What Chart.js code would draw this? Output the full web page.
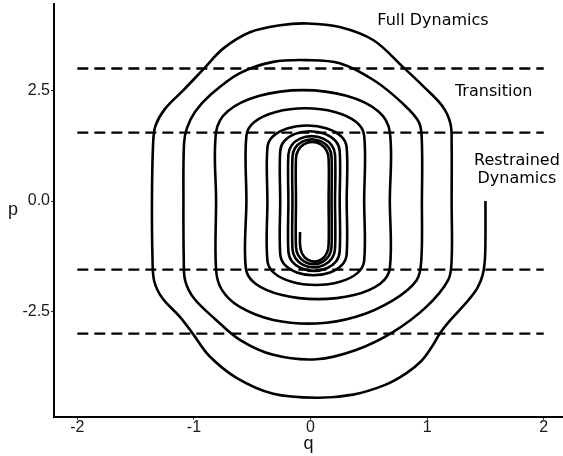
<!DOCTYPE html>
<html>
<head>
<meta charset="utf-8">
<script src="https://cdn.jsdelivr.net/npm/chart.js@4/dist/chart.umd.min.js"></script>
<style>
    html, body { margin: 0; padding: 0; background: #fff; }
</style>
</head>
<body>
<canvas id="phaseChart" width="563" height="456"></canvas>
<script>
// trajectory, in order from the start at (1.5, 0)
const qValues = [
    1.50, 1.50, 1.495, 1.475, 1.43, 1.355, 1.27, 1.18, 1.11, 1.04, 0.95, 0.82, 0.64, 0.365, 0.05,
    -0.32, -0.635, -0.87, -1.01, -1.12, -1.27, -1.34, -1.355, -1.36, -1.35, -1.33, -1.25, -1.09, -0.92,
    -0.75, -0.52, -0.26, -0.03, 0.25, 0.54, 0.79, 0.97, 1.13, 1.20, 1.21, 1.21,
    1.21, 1.18, 0.995, 0.71, 0.39, 0.05, -0.32, -0.606, -0.81, -1.00, -1.075, -1.087, -1.09,
    -1.085, -1.06, -0.99, -0.86, -0.61, -0.32, -0.03, 0.25, 0.54, 0.79, 0.93, 0.955, 0.955,
    0.95, 0.91, 0.71, 0.39, 0.05, -0.32, -0.61, -0.76, -0.81, -0.81,
    -0.81, -0.71, -0.4375, -0.065, 0.3075, 0.58, 0.68, 0.68,
    0.68, 0.597, 0.374, 0.0625, -0.246, -0.472, -0.555, -0.55,
    -0.55, -0.482, -0.297, -0.045, 0.208, 0.392, 0.46, 0.46,
    0.46, 0.404, 0.2525, 0.045, -0.1625, -0.314, -0.37, -0.37,
    -0.37, -0.324, -0.20, -0.03, 0.14, 0.264, 0.31, 0.31,
    0.31, 0.272, 0.1675, 0.025, -0.1175, -0.222, -0.26, -0.26,
    -0.26, -0.226, -0.133, -0.005, 0.123, 0.216, 0.25, 0.25,
    0.25, 0.2205, 0.14, 0.03, -0.08, -0.1605, -0.19, -0.19,
    -0.19, -0.163, -0.09, 0.01, 0.11, 0.183, 0.21, 0.21,
    0.21, 0.186, 0.119, 0.0275, -0.064, -0.131, -0.155, -0.155,
    -0.155, -0.133, -0.071, 0.0125, 0.096, 0.158, 0.18, 0.18,
    0.18, 0.16, 0.104, 0.0275, -0.049, -0.105, -0.125, -0.125,
    -0.125, -0.106, -0.055, 0.015, 0.085, 0.136, 0.155, 0.155,
    0.155, 0.139, 0.094, 0.0325, -0.029, -0.074, -0.09, -0.09
];
const pValues = [
    0.00, -0.80, -1.33, -1.68, -1.97, -2.24, -2.49, -2.75, -2.99, -3.30, -3.62, -3.90, -4.16, -4.38, -4.45,
    -4.36, -4.00, -3.50, -3.00, -2.62, -2.20, -1.82, -1.33, 0.00, 1.30, 1.70, 2.08, 2.51, 2.98,
    3.45, 3.82, 3.98, 4.02, 3.94, 3.64, 3.04, 2.59, 2.15, 1.75, 1.30, 0.00,
    -1.33, -1.79, -2.39, -2.96, -3.37, -3.58, -3.48, -3.14, -2.69, -2.20, -1.80, -1.33, 0.00,
    1.30, 1.65, 2.02, 2.40, 2.89, 3.15, 3.19, 3.12, 2.74, 2.21, 1.78, 1.30, 0.00,
    -1.33, -1.79, -2.24, -2.62, -2.77, -2.69, -2.39, -2.01, -1.56, 0.00,
    1.56, 2.035, 2.383, 2.51, 2.383, 2.035, 1.56, 0.00,
    -1.52, -1.87, -2.126, -2.22, -2.126, -1.87, -1.52, 0.00,
    1.48, 1.79, 2.017, 2.10, 2.017, 1.79, 1.48, 0.00,
    -1.35, -1.625, -1.826, -1.90, -1.826, -1.625, -1.35, 0.00,
    1.21, 1.46, 1.643, 1.71, 1.643, 1.46, 1.21, 0.00,
    -1.20, -1.44, -1.616, -1.68, -1.616, -1.44, -1.20, 0.00,
    1.13, 1.355, 1.52, 1.58, 1.52, 1.355, 1.13, 0.00,
    -1.14, -1.36, -1.521, -1.58, -1.521, -1.36, -1.14, 0.00,
    1.05, 1.26, 1.414, 1.47, 1.414, 1.26, 1.05, 0.00,
    -1.08, -1.29, -1.444, -1.50, -1.444, -1.29, -1.08, 0.00,
    1.00, 1.20, 1.346, 1.40, 1.346, 1.20, 1.00, 0.00,
    -1.03, -1.23, -1.376, -1.43, -1.376, -1.23, -1.03, 0.00,
    0.96, 1.15, 1.289, 1.34, 1.289, 1.15, 0.96, 0.00,
    -0.99, -1.18, -1.319, -1.37, -1.319, -1.18, -0.99, -0.70
];

// region boundaries (dashed)
const boundaryLevels = [3, 1.55, -1.55, -3];
const boundaryRange = [-2, 2];

const xTicks = [-2, -1, 0, 1, 2];
const yTicks = [-2.5, 0, 2.5];

const regionLabels = [
    { text: 'Full Dynamics', q: 1.05, p: 4.09 },
    { text: 'Transition', q: 1.57, p: 2.47 },
    { text: 'Restrained', q: 1.77, p: 0.90 },
    { text: 'Dynamics', q: 1.77, p: 0.51 }
];

const trajectory = qValues.map(function (q, i) {
    return { x: q, y: pValues[i] };
});

const boundarySets = boundaryLevels.map(function (level) {
    return {
        data: boundaryRange.map(function (q) { return { x: q, y: level }; }),
        showLine: true,
        borderColor: '#000',
        borderWidth: 2.3,
        borderDash: [11, 6],
        pointRadius: 0
    };
});

const textPlugin = {
    id: 'regionText',
    afterDatasetsDraw: function (chart) {
        const ctx = chart.ctx;
        const xs = chart.scales.x;
        const ys = chart.scales.y;
        ctx.save();
        ctx.fillStyle = '#000';
        ctx.font = '16px "DejaVu Sans"';
        ctx.textAlign = 'center';
        ctx.textBaseline = 'middle';
        regionLabels.forEach(function (lbl) {
            ctx.fillText(lbl.text, xs.getPixelForValue(lbl.q), ys.getPixelForValue(lbl.p));
        });
        // y axis title, kept upright
        ctx.font = '18px "Liberation Sans"';
        ctx.fillStyle = '#111';
        ctx.fillText('p', 13, (ys.top + ys.bottom) / 2);
        ctx.restore();
    }
};

new Chart('phaseChart', {
    type: 'scatter',
    data: {
        datasets: [{
            data: trajectory,
            showLine: true,
            borderColor: '#000',
            borderWidth: 2.6,
            tension: 0.35,
            pointRadius: 0
        }].concat(boundarySets)
    },
    options: {
        responsive: false,
        animation: false,
        layout: { padding: { top: 4, right: 0, bottom: 0, left: 0 } },
        plugins: {
            legend: { display: false },
            tooltip: { enabled: false }
        },
        scales: {
            x: {
                type: 'linear',
                min: -2.2,
                max: 2.165,
                afterBuildTicks: function (scale) {
                    scale.ticks = xTicks.map(function (v) { return { value: v }; });
                },
                afterFit: function (scale) {
                    scale.height = 39.3;
                    scale.paddingLeft = 0;
                    scale.paddingRight = 0;
                },
                border: { display: true, color: '#000', width: 2 },
                grid: { drawOnChartArea: false, tickLength: 3, tickColor: '#333' },
                ticks: {
                    color: '#1a1a1a',
                    padding: -2,
                    maxRotation: 0,
                    font: { family: 'Liberation Sans', size: 16 }
                },
                title: {
                    display: true,
                    text: 'q',
                    color: '#111',
                    padding: { top: 0, bottom: 1 },
                    font: { family: 'Liberation Sans', size: 18 }
                }
            },
            y: {
                type: 'linear',
                min: -4.88,
                max: 4.46,
                afterBuildTicks: function (scale) {
                    scale.ticks = yTicks.map(function (v) { return { value: v }; });
                },
                afterFit: function (scale) {
                    scale.width = 54;
                    scale.paddingTop = 0;
                    scale.paddingBottom = 0;
                },
                border: { display: true, color: '#000', width: 2 },
                grid: { drawOnChartArea: false, tickLength: 3, tickColor: '#333' },
                ticks: {
                    color: '#1a1a1a',
                    padding: 1,
                    font: { family: 'Liberation Sans', size: 16 },
                    callback: function (v) { return v.toFixed(1); }
                }
            }
        }
    },
    plugins: [textPlugin]
});
</script>
</body>
</html>
